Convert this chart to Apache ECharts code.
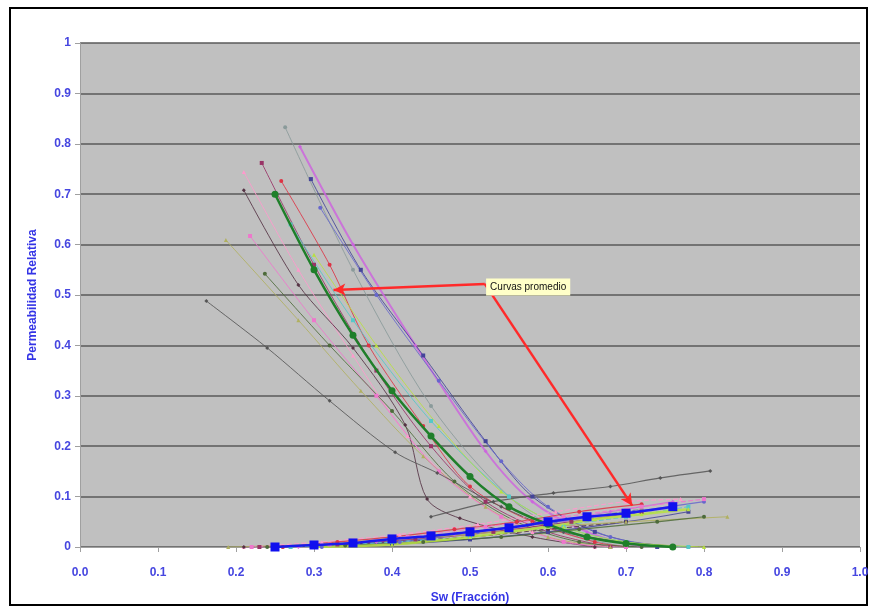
<!DOCTYPE html>
<html><head><meta charset="utf-8">
<script src="https://cdn.jsdelivr.net/npm/echarts@6/dist/echarts.min.js"></script>
<style>html,body{margin:0;padding:0;background:#fff}#c{width:880px;height:616px}</style>
</head><body><div id="c"></div>
<script>
// Axis ticks
const xTicks = [0.0,0.1,0.2,0.3,0.4,0.5,0.6,0.7,0.8,0.9,1.0];
const yTicks = [0,0.1,0.2,0.3,0.4,0.5,0.6,0.7,0.8,0.9,1];

// Sample curves: Kro (oil) and Krw (water) as [Sw, Kr]
const kro1 = [[0.263,0.833],[0.35,0.55],[0.45,0.28],[0.55,0.10],[0.62,0.03],[0.70,0.0]];
const krw1 = [[0.26,0],[0.35,0.005],[0.45,0.02],[0.55,0.04],[0.65,0.06],[0.72,0.075]];
const kro2 = [[0.282,0.794],[0.35,0.60],[0.43,0.40],[0.52,0.19],[0.58,0.09],[0.65,0.03],[0.72,0.0]];
const krw2 = [[0.28,0],[0.38,0.01],[0.48,0.025],[0.58,0.045],[0.68,0.07],[0.76,0.09]];
const kro3 = [[0.233,0.762],[0.30,0.56],[0.38,0.35],[0.45,0.20],[0.52,0.09],[0.60,0.03],[0.68,0.0]];
const krw3 = [[0.23,0],[0.33,0.005],[0.43,0.015],[0.53,0.03],[0.63,0.05],[0.72,0.07]];
const kro4 = [[0.21,0.744],[0.28,0.55],[0.35,0.38],[0.42,0.22],[0.50,0.10],[0.58,0.03],[0.66,0.0]];
const krw4 = [[0.21,0],[0.31,0.01],[0.41,0.025],[0.51,0.045],[0.61,0.07],[0.70,0.09],[0.77,0.095]];
const kro5 = [[0.258,0.726],[0.32,0.56],[0.37,0.40],[0.44,0.24],[0.50,0.12],[0.58,0.05],[0.66,0.01],[0.70,0.0]];
const krw5 = [[0.26,0],[0.33,0.01],[0.40,0.02],[0.48,0.035],[0.56,0.05],[0.64,0.07],[0.72,0.085]];
const kro6 = [[0.296,0.73],[0.36,0.55],[0.44,0.38],[0.52,0.21],[0.58,0.10],[0.66,0.03],[0.74,0.0]];
const krw6 = [[0.30,0],[0.40,0.005],[0.50,0.015],[0.60,0.03],[0.70,0.05],[0.78,0.07]];
const kro7 = [[0.21,0.708],[0.28,0.52],[0.35,0.395],[0.417,0.242],[0.445,0.095],[0.487,0.057],[0.58,0.02],[0.66,0.0]];
const krw7 = [[0.21,0],[0.30,0.003],[0.40,0.01],[0.50,0.02],[0.60,0.035],[0.70,0.05]];
const kro8 = [[0.308,0.673],[0.38,0.50],[0.46,0.33],[0.54,0.17],[0.60,0.08],[0.68,0.02],[0.76,0.0]];
const krw8 = [[0.31,0],[0.41,0.01],[0.51,0.03],[0.61,0.05],[0.71,0.07],[0.80,0.09]];
const kro9 = [[0.187,0.609],[0.28,0.45],[0.36,0.31],[0.44,0.18],[0.52,0.08],[0.60,0.02],[0.68,0.0]];
const krw9 = [[0.19,0],[0.30,0.005],[0.40,0.015],[0.50,0.025],[0.60,0.04],[0.70,0.05],[0.83,0.06]];
const kro10 = [[0.218,0.617],[0.30,0.45],[0.38,0.30],[0.46,0.15],[0.54,0.06],[0.62,0.01],[0.70,0.0]];
const krw10 = [[0.22,0],[0.32,0.005],[0.42,0.02],[0.52,0.04],[0.62,0.06],[0.72,0.08],[0.80,0.095]];
const kro11 = [[0.237,0.542],[0.32,0.40],[0.40,0.27],[0.48,0.13],[0.56,0.05],[0.64,0.01],[0.72,0.0]];
const krw11 = [[0.24,0],[0.34,0.003],[0.44,0.01],[0.54,0.02],[0.64,0.035],[0.74,0.05],[0.80,0.06]];
const kro12 = [[0.162,0.488],[0.24,0.395],[0.32,0.29],[0.404,0.188],[0.458,0.147],[0.54,0.08],[0.62,0.03],[0.70,0.01],[0.78,0.0]];
const krw12 = [[0.45,0.06],[0.53,0.09],[0.607,0.107],[0.68,0.12],[0.744,0.137],[0.808,0.151]];
const kro13 = [[0.27,0.64],[0.35,0.45],[0.45,0.25],[0.55,0.10],[0.62,0.04],[0.70,0.01],[0.78,0.0]];
const krw13 = [[0.27,0],[0.40,0.01],[0.50,0.02],[0.60,0.04],[0.70,0.06],[0.78,0.08]];
const kro14 = [[0.30,0.58],[0.38,0.40],[0.46,0.24],[0.54,0.11],[0.62,0.04],[0.70,0.01],[0.80,0.0]];
const krw14 = [[0.30,0],[0.40,0.005],[0.50,0.02],[0.60,0.04],[0.66,0.055],[0.72,0.065],[0.78,0.075]];

// Average curves
const swAvg  = [0.25,0.30,0.35,0.40,0.45,0.50,0.55,0.60,0.65,0.70,0.76];
const kroAvg = [0.70,0.55,0.42,0.31,0.22,0.14,0.08,0.045,0.02,0.007,0.0];
const krwAvg = [0.0,0.004,0.008,0.016,0.022,0.03,0.038,0.05,0.06,0.067,0.08];

const sampleColors = ['#8a9a9a','#cc66dd','#993366','#ff99cc','#dd3344','#444499','#553344','#6666cc','#b0b060','#ee77cc','#4d6b3a','#555555','#55c8c8','#b8e040'];
const sampleSymbols = ['circle','diamond','rect','triangle','circle','rect','diamond','circle','triangle','rect','circle','diamond','rect','triangle'];
const kroList = [kro1,kro2,kro3,kro4,kro5,kro6,kro7,kro8,kro9,kro10,kro11,kro12,kro13,kro14];
const krwList = [krw1,krw2,krw3,krw4,krw5,krw6,krw7,krw8,krw9,krw10,krw11,krw12,krw13,krw14];

const series = [];
kroList.forEach((d,i)=>{
  series.push({type:'line', data:d, smooth:0.3, symbol:sampleSymbols[i], symbolSize:4, showSymbol:true,
    lineStyle:{width:(i===1?2:1), color:sampleColors[i], opacity:0.85}, itemStyle:{color:sampleColors[i]}, z:2});
});
krwList.forEach((d,i)=>{
  series.push({type:'line', data:d, smooth:0.3, symbol:sampleSymbols[i], symbolSize:4,
    lineStyle:{width:(i===13?2.5:1.2), color:sampleColors[i], opacity:0.85, type:(i%3===0?'dashed':'solid')}, itemStyle:{color:sampleColors[i]}, z:2});
});
series.push({type:'line', data:swAvg.map((x,i)=>[x,kroAvg[i]]), smooth:0.3, symbol:'circle', symbolSize:7,
  lineStyle:{width:2.5,color:'#1f7f2a'}, itemStyle:{color:'#1f7f2a'}, z:5});
series.push({type:'line', data:swAvg.map((x,i)=>[x,krwAvg[i]]), smooth:0.3, symbol:'rect', symbolSize:9,
  lineStyle:{width:2.5,color:'#1a1aee'}, itemStyle:{color:'#1010ee'}, z:5,
  markLine:{silent:true, symbol:['none','arrow'], symbolSize:[9,12],
    lineStyle:{color:'#ff2a2a', width:2.5, type:'solid'}, label:{show:false},
    data:[[{coord:[0.519,0.522]},{coord:[0.325,0.51]}],[{coord:[0.519,0.522]},{coord:[0.708,0.082]}]]},
  markPoint:{silent:true, symbol:'circle', symbolSize:1, itemStyle:{color:'rgba(0,0,0,0)'},
    data:[{coord:[0.52,0.516]}],
    label:{show:true, position:'right', distance:0, formatter:'Curvas promedio', color:'#111', fontSize:10,
      fontFamily:'Liberation Sans', backgroundColor:'#ffffc8', padding:[4,4,3,4]}}
});

const chart = echarts.init(document.getElementById('c'));
chart.setOption({
  animation:false,
  backgroundColor:'#ffffff',
  graphic:[{type:'rect', shape:{x:10,y:8,width:857,height:597}, style:{fill:'none', stroke:'#000', lineWidth:2}, z:-1}],
  grid:{left:80, right:20, top:43, bottom:69, show:true, backgroundColor:'#c0c0c0', borderWidth:0},
  xAxis:{type:'value', min:0, max:1, interval:0.1,
    name:'Sw (Fracción)', nameLocation:'middle', nameGap:45,
    nameTextStyle:{color:'#3434e6', fontWeight:'bold', fontSize:12, fontFamily:'Liberation Sans'},
    axisLine:{show:true, lineStyle:{color:'#a0a0a0'}}, axisTick:{show:true, lineStyle:{color:'#a0a0a0'}},
    axisLabel:{color:'#4646e0', fontSize:12, fontWeight:'bold', fontFamily:'Liberation Sans', margin:20, formatter:v=>v.toFixed(1)},
    splitLine:{show:false}},
  yAxis:{type:'value', min:0, max:1, interval:0.1,
    name:'Permeabilidad Relativa', nameLocation:'middle', nameGap:41, nameRotate:90,
    nameTextStyle:{color:'#3434e6', fontWeight:'bold', fontSize:12, fontFamily:'Liberation Sans'},
    axisLine:{show:true, lineStyle:{color:'#a0a0a0'}}, axisTick:{show:true, lineStyle:{color:'#a0a0a0'}},
    axisLabel:{color:'#4646e0', fontSize:12, fontWeight:'bold', fontFamily:'Liberation Sans', margin:9, formatter:v=>String(Math.round(v*10)/10)},
    splitLine:{show:true, lineStyle:{color:'#5a5a5a', width:1.5}}},
  series:series
});
</script></body></html>
